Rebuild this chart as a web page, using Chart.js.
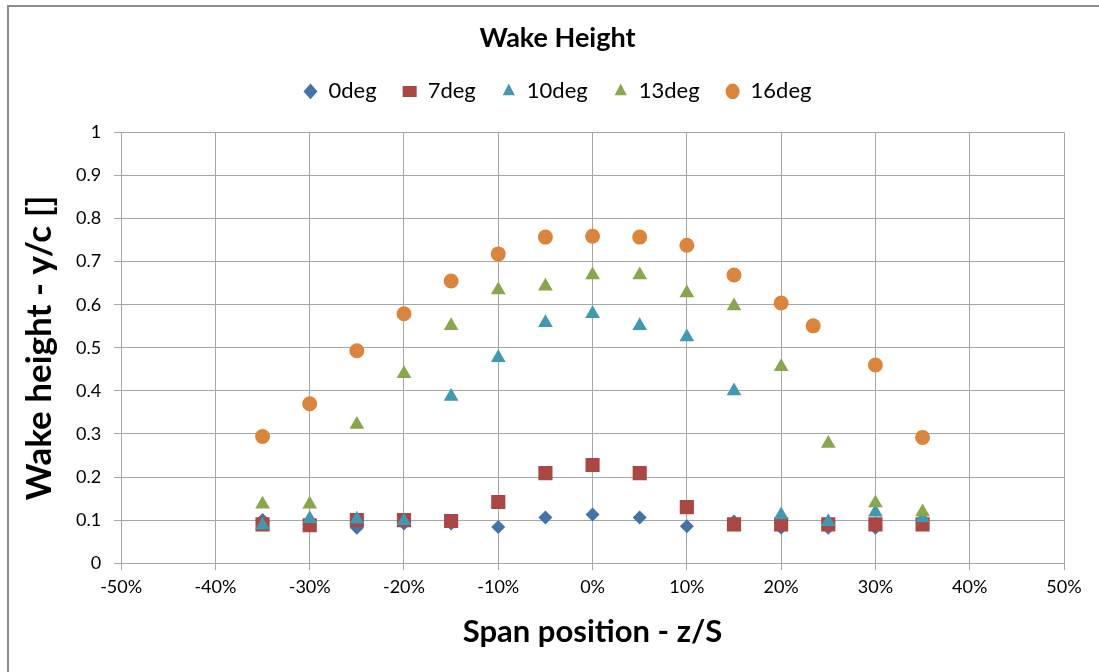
<!DOCTYPE html>
<html>
<head>
<meta charset="utf-8">
<script src="https://cdn.jsdelivr.net/npm/chart.js@4.4.0/dist/chart.umd.min.js"></script>
<style>
  body { margin: 0; background: #fff; }
  #frame { position: absolute; left: 7px; top: 5px; width: 1200px; height: 800px;
           border-left: 2px solid #8c8c8c; border-top: 2px solid #8c8c8c; }
  #wake { position: absolute; left: 0; top: 0; }
</style>
</head>
<body>
<div id="frame"></div>
<canvas id="wake" width="1099" height="672"></canvas>
<script>
// span positions (z/S)
const spanMain = [-0.35, -0.30, -0.25, -0.20, -0.15, -0.10, -0.05, 0, 0.05, 0.10, 0.15, 0.20, 0.25, 0.30, 0.35];
const span16 = [-0.35, -0.30, -0.25, -0.20, -0.15, -0.10, -0.05, 0, 0.05, 0.10, 0.15, 0.20, 0.234, 0.30, 0.35];

// wake height y/c per angle of attack
const wake0 = [0.100, 0.090, 0.082, 0.092, 0.092, 0.084, 0.106, 0.113, 0.106, 0.086, 0.097, 0.082, 0.082, 0.082, 0.100];
const wake7 = [0.090, 0.088, 0.100, 0.100, 0.098, 0.142, 0.209, 0.228, 0.209, 0.130, 0.090, 0.090, 0.090, 0.090, 0.090];
const wake10 = [0.088, 0.103, 0.102, 0.098, 0.387, 0.477, 0.558, 0.579, 0.551, 0.525, 0.400, 0.112, 0.096, 0.118, 0.105];
const wake13 = [0.137, 0.137, 0.322, 0.440, 0.551, 0.634, 0.643, 0.669, 0.669, 0.627, 0.597, 0.456, 0.278, 0.140, 0.119];
const wake16 = [0.294, 0.370, 0.493, 0.579, 0.655, 0.718, 0.757, 0.759, 0.757, 0.738, 0.669, 0.604, 0.551, 0.460, 0.292];

const seriesNames = ['0deg', '7deg', '10deg', '13deg', '16deg'];
const yTicks = [0, 0.1, 0.2, 0.3, 0.4, 0.5, 0.6, 0.7, 0.8, 0.9, 1];
const xTicks = [-0.5, -0.4, -0.3, -0.2, -0.1, 0, 0.1, 0.2, 0.3, 0.4, 0.5];

const FONT = 'Lato, "Open Sans", sans-serif';

const toPoints = (xs, ys) => xs.map((x, i) => ({ x: x, y: ys[i] }));

const styles = [
    { color: '#4572A7', shape: 'rectRot', r: 7 },
    { color: '#AA4643', shape: 'rect', r: 10 },
    { color: '#4198AF', shape: 'triangle', r: 8.5 },
    { color: '#89A54E', shape: 'triangle', r: 8.5 },
    { color: '#DB843D', shape: 'circle', r: 7.5 }
];
const allData = [
    toPoints(spanMain, wake0),
    toPoints(spanMain, wake7),
    toPoints(spanMain, wake10),
    toPoints(spanMain, wake13),
    toPoints(span16, wake16)
];

// extra room under the legend, and title + legend nudged right a bit
const headerTweak = {
    id: 'headerTweak',
    beforeInit(chart) {
        const fit = chart.legend.fit;
        chart.legend.fit = function () {
            fit.bind(chart.legend)();
            this.height += 20;
        };
    },
    afterLayout(chart) {
        const shift = 18;
        [chart.legend, chart.titleBlock].forEach(box => {
            box.left += shift;
            box.right += shift;
        });
        chart.legend.adjustHitBoxes();
    }
};

const ctx = document.getElementById('wake').getContext('2d');
new Chart(ctx, {
    type: 'scatter',
    data: {
        datasets: seriesNames.map((name, i) => ({
            label: name,
            data: allData[i],
            pointStyle: styles[i].shape,
            pointRadius: styles[i].r,
            pointHoverRadius: styles[i].r,
            backgroundColor: styles[i].color,
            borderColor: styles[i].color,
            borderWidth: 0,
            order: seriesNames.length - i   // later series drawn on top
        }))
    },
    plugins: [headerTweak],
    options: {
        responsive: false,
        animation: false,
        layout: { padding: { left: 15, right: 35, top: 6, bottom: 17 } },
        plugins: {
            title: {
                display: true,
                text: 'Wake Height',
                color: '#000',
                font: { family: FONT, size: 27, weight: 'bold' },
                padding: { top: 16, bottom: 0 }
            },
            legend: {
                labels: {
                    usePointStyle: true,
                    pointStyleWidth: 14,
                    boxHeight: 11,
                    color: '#000',
                    padding: 26,
                    font: { family: FONT, size: 22 },
                    sort: (a, b) => a.datasetIndex - b.datasetIndex
                }
            },
            tooltip: { enabled: false }
        },
        scales: {
            x: {
                type: 'linear',
                min: -0.5,
                max: 0.5,
                afterBuildTicks: (axis) => { axis.ticks = xTicks.map(v => ({ value: v })); },
                ticks: {
                    color: '#000',
                    font: { family: FONT, size: 18 },
                    padding: 6,
                    maxRotation: 0,
                    callback: (v) => Math.round(v * 100) + '%'
                },
                grid: { color: '#A6A6A6', lineWidth: 1, tickLength: 7 },
                border: { color: '#A6A6A6' },
                title: {
                    display: true,
                    text: 'Span position - z/S',
                    color: '#000',
                    font: { family: FONT, size: 31, weight: 'bold' },
                    padding: { top: 10 }
                }
            },
            y: {
                min: 0,
                max: 1,
                afterBuildTicks: (axis) => { axis.ticks = yTicks.map(v => ({ value: v })); },
                ticks: {
                    color: '#000',
                    font: { family: FONT, size: 18 },
                    padding: 13,
                    callback: (v) => String(Math.round(v * 10) / 10)
                },
                grid: { color: '#A6A6A6', lineWidth: 1, tickLength: 7 },
                border: { color: '#A6A6A6' },
                title: {
                    display: true,
                    text: 'Wake height - y/c []',
                    color: '#000',
                    font: { family: FONT, size: 35, weight: 'bold' },
                    padding: { bottom: 2 }
                }
            }
        }
    }
});
</script>
</body>
</html>
